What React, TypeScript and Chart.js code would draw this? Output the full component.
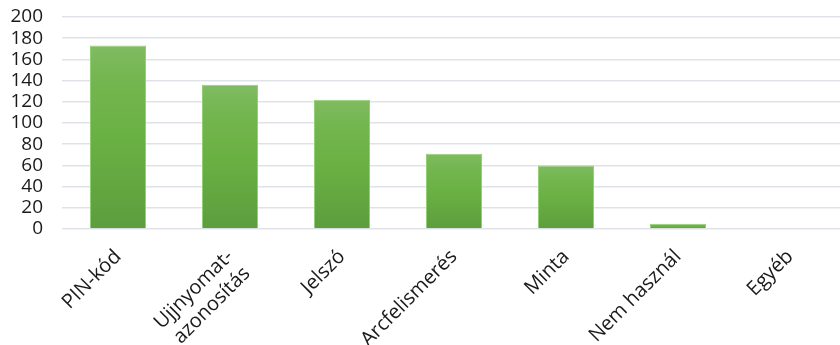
import React, { useEffect, useRef } from "react";
import { Chart, registerables } from "chart.js";

Chart.register(...registerables);

const categories: (string | string[])[] = [
  "PIN-kód",
  ["Ujjnyomat-", "azonosítás"],
  "Jelszó",
  "Arcfelismerés",
  "Minta",
  "Nem használ",
  "Egyéb",
];
const values: number[] = [173, 136, 122, 71, 60, 5, 0];
const yMin = 0;
const yMax = 200;
const yStep = 20;

const FONT = "'Open Sans', 'Noto Sans', sans-serif";

export default function App() {
  const ref = useRef<HTMLCanvasElement | null>(null);

  useEffect(() => {
    document.body.style.margin = "0";
    document.body.style.overflow = "hidden";
    const canvas = ref.current;
    if (!canvas) return;
    const chart = new Chart(canvas, {
      type: "bar",
      data: {
        labels: categories,
        datasets: [
          {
            data: values,
            backgroundColor: (ctx: any) => {
              const ch = ctx.chart;
              const y = ch.scales && ch.scales.y;
              if (!ch.chartArea || !y || ctx.type !== "data") return "#6db245";
              const v = ctx.raw as number;
              const top = y.getPixelForValue(v);
              const bottom = y.getPixelForValue(0);
              if (!isFinite(top) || !isFinite(bottom) || bottom - top < 1) return "#6db245";
              const g = ch.ctx.createLinearGradient(0, top, 0, bottom);
              g.addColorStop(0, "#80bb62");
              g.addColorStop(0.18, "#74b650");
              g.addColorStop(0.5, "#6ab143");
              g.addColorStop(1, "#5c9d3e");
              return g;
            },
            borderColor: "#93cf74",
            borderWidth: 1,
            barPercentage: 0.5,
            categoryPercentage: 1,
          },
        ],
      },
      options: {
        animation: false,
        responsive: false,
        maintainAspectRatio: false,
        layout: { padding: { top: 17, left: 0, right: 0, bottom: 0 } },
        plugins: {
          legend: { display: false },
          tooltip: { enabled: false },
        },
        scales: {
          x: {
            grid: { display: false, drawTicks: false },
            border: { display: false },
            ticks: {
              minRotation: 45,
              maxRotation: 45,
              autoSkip: false,
              padding: 16,
              color: "#1a1a1a",
              font: { family: FONT, size: 20 },
            },
            afterFit: (s: any) => {
              s.height = 116;
              s.paddingLeft = 0;
              s.paddingRight = 0;
            },
          },
          y: {
            min: yMin,
            max: yMax,
            grid: { color: "#dfe3e9", lineWidth: 1.5, drawTicks: false },
            border: { display: false },
            ticks: {
              stepSize: yStep,
              autoSkip: false,
              padding: 19,
              color: "#1a1a1a",
              font: { family: FONT, size: 19 },
            },
            afterFit: (s: any) => {
              s.width = 62;
              s.paddingTop = 0;
              s.paddingBottom = 0;
            },
          },
        },
      },
    });
    return () => chart.destroy();
  }, []);

  return (
    <div
      style={{
        position: "fixed",
        left: 0,
        top: 0,
        width: 840,
        height: 345,
        overflow: "hidden",
        background: "#fff",
      }}
    >
      <canvas ref={ref} width={846} height={345} style={{ width: 846, height: 345, display: "block" }} />
    </div>
  );
}
